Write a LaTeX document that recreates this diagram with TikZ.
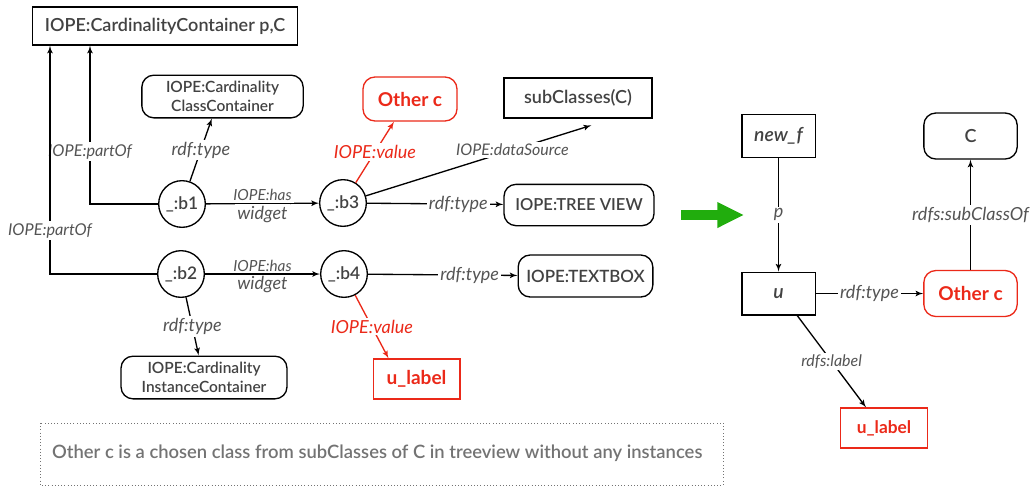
\documentclass[tikz,border=0pt]{standalone}
\usepackage{fontspec}
\setmainfont{Lato}
\newfontfamily\semifont{Lato Semibold}
\usepackage{tikz}
\usetikzlibrary{arrows}
\usetikzlibrary{arrows.meta}
\usetikzlibrary{positioning}
\definecolor{mred}{rgb}{0.92, 0.16, 0.1}
\definecolor{mgray}{rgb}{0.26, 0.26, 0.26}
\definecolor{lgray}{rgb}{0.33, 0.33, 0.33}
\definecolor{ngray}{rgb}{0.45, 0.45, 0.45}
\definecolor{mgreen}{rgb}{0.13, 0.68, 0.05}
\tikzset{>={latex'[scale=1.3]}}
\tikzset{box/.style = {draw, line width = 1pt, text = mgray, font = \fontsize{13.5}{15}\semifont,
                       align = center, inner sep = 2}}
\tikzset{rbox/.style = {box, rounded corners = 9}}
\tikzset{twoline/.style = {rbox, font = \fontsize{11.6}{14}\semifont}}
\tikzset{redbox/.style = {draw = mred, text = mred, font = \fontsize{14.3}{16}\selectfont\bfseries}}
\tikzset{blank/.style = {draw, line width = 1pt, circle, text = mgray, minimum size = 35,
                         inner sep = 0, font = \fontsize{13}{14}\semifont}}
\tikzset{lbl/.style = {fill = white, text = lgray, inner sep = 1.5,
                       font = \fontsize{13.5}{15}\selectfont\itshape}}
\tikzset{slbl/.style = {lbl, font = \fontsize{11.5}{13}\selectfont\itshape}}

\begin{document}
\begin{tikzpicture}[x = 0.75pt, y = -0.75pt, line width = 1pt]
    \useasboundingbox (0, 0) rectangle (1034, 487);

    \node [box, minimum width = 199, minimum height = 28.5] (cc) at (165, 26) {IOPE:CardinalityContainer p,C};
    \node [twoline, minimum width = 121, minimum height = 32] (ccc) at (222.5, 96.5) {IOPE:Cardinality\\ClassContainer};
    \node [rbox, redbox, minimum width = 70.5, minimum height = 33] (oc) at (410, 99) {Other c};
    \node [box, minimum width = 111, minimum height = 30] (sub) at (578, 98) {subClasses(C)};
    \node [blank] (b1) at (182, 204) {\_:b1};
    \node [blank] (b3) at (343, 203) {\_:b3};
    \node [rbox, minimum width = 112.5, minimum height = 31, font = \fontsize{12.4}{14}\semifont] (tree) at (579, 205) {IOPE:TREE VIEW};
    \node [blank] (b2) at (181, 274) {\_:b2};
    \node [blank] (b4) at (344, 274) {\_:b4};
    \node [rbox, minimum width = 101, minimum height = 31.5, font = \fontsize{12.7}{14}\semifont] (tbox) at (585.5, 276) {IOPE:TEXTBOX};
    \node [twoline, minimum width = 124.5, minimum height = 32] (cic) at (204, 377.5) {IOPE:Cardinality\\InstanceContainer};
    \node [box, redbox, minimum width = 65, minimum height = 30] (ul) at (416.5, 379) {u\_label};

    \coordinate (p1) at (90, 204);
    \coordinate (p2) at (50, 274);
    \draw [->] (b1) -- (p1) -- node [lbl, pos = 0.33, font = \fontsize{12.2}{14}\selectfont\itshape] {IOPE:partOf} (p1 |- cc.south);
    \draw [->] (b2) -- (p2) -- node [lbl, pos = 0.19, font = \fontsize{12.2}{14}\selectfont\itshape] {IOPE:partOf} (p2 |- cc.south);
    \draw [->] (b1) -- node [lbl] {rdf:type} ([xshift = -8pt]ccc.south);
    \draw [->] (b1) -- node [slbl, above] {IOPE:has} node [lbl, below] {widget} (b3);
    \draw [->, mred] (b3) -- node [lbl, text = mred] {IOPE:value} ([xshift = -12pt]oc.south);
    \draw [->] (b3) -- node [slbl, pos = 0.65, font = \fontsize{12}{13}\selectfont\itshape] {IOPE:dataSource} ([xshift = 10pt, yshift = -5pt]sub.south);
    \draw [->] (b3) -- node [lbl, pos = 0.67] {rdf:type} (tree);
    \draw [->] (b2) -- node [slbl, above] {IOPE:has} node [lbl, below] {widget} (b4);
    \draw [->] (b4) -- node [lbl, pos = 0.68] {rdf:type} (tbox);
    \draw [->] (b2) -- node [lbl] {rdf:type} ([xshift = -4pt]cic.north);
    \draw [->, mred] (b4) -- node [lbl, text = mred] {IOPE:value} ([xshift = -21pt]ul.north);

    \coordinate (note nw) at (40, 423);
    \coordinate (note se) at (723, 485);
    \draw [thin, dotted, ngray] (note nw) rectangle (note se);
    \node [anchor = west, text = ngray, font = \fontsize{13.8}{15}\semifont] (note) at (47, 453.5)
        {Other c is a chosen class from subClasses of C in treeview without any instances};

    \coordinate (g1) at (681, 215);
    \coordinate (g2) at (744, 215);
    \draw [mgreen, line width = 7.5pt, -{Triangle[length = 20pt, width = 18pt]}] (g1) -- (g2);

    \node [box, minimum width = 55, minimum height = 32, font = \fontsize{14.5}{16}\semifont\itshape] (nf) at (778.5, 136) {new\_f};
    \node [rbox, minimum width = 70, minimum height = 34.5] (C) at (970.5, 136) {C};
    \node [box, minimum width = 55, minimum height = 32, font = \fontsize{14.5}{16}\semifont\itshape] (u) at (778.5, 293.5) {u};
    \node [rbox, redbox, minimum width = 70, minimum height = 34.5] (oc2) at (970.5, 293.5) {Other c};
    \node [box, redbox, minimum width = 65, minimum height = 30, font = \fontsize{13}{14}\selectfont\bfseries] (ul2) at (884, 428) {u\_label};

    \draw [->] (nf) -- node [lbl] {p} (u);
    \draw [->] (oc2) -- node [lbl] {rdfs:subClassOf} (C);
    \draw [->] (u) -- node [lbl] {rdf:type} (oc2);
    \draw [->] ([xshift = 14pt]u.south) -- node [slbl, font = \fontsize{12}{13}\selectfont\itshape] {rdfs:label} ([xshift = -13.5pt]ul2.north);
\end{tikzpicture}
\end{document}
